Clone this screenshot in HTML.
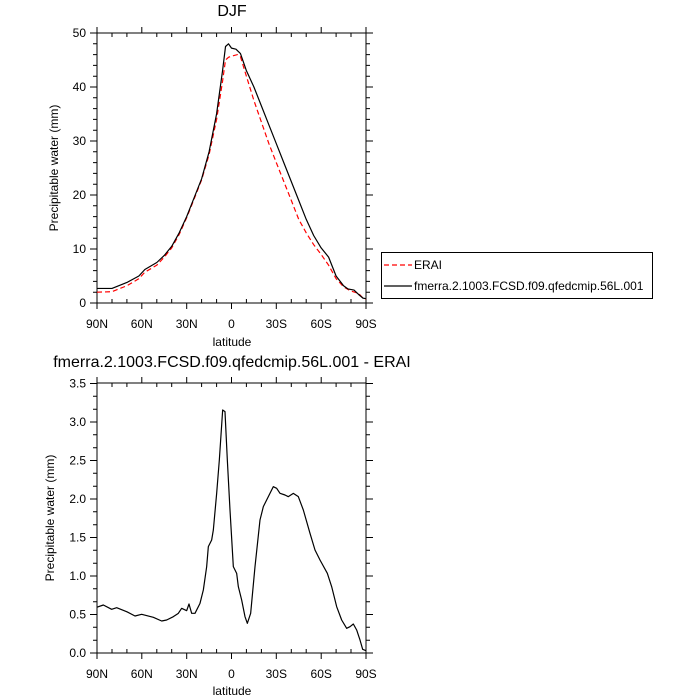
<!DOCTYPE html>
<html><head><style>body{margin:0;background:#fff}svg{display:block}text{font-family:"Liberation Sans",sans-serif;fill:#000}</style></head>
<body>
<svg width="700" height="700" viewBox="0 0 700 700">
<rect width="700" height="700" fill="#fff"/>
<defs>
<g id="xt" stroke="#000" stroke-width="1">
<line x1="97" y1="0" x2="97" y2="6"/><line x1="141.8" y1="0" x2="141.8" y2="6"/><line x1="186.7" y1="0" x2="186.7" y2="6"/><line x1="231.5" y1="0" x2="231.5" y2="6"/><line x1="276.3" y1="0" x2="276.3" y2="6"/><line x1="321.2" y1="0" x2="321.2" y2="6"/><line x1="366" y1="0" x2="366" y2="6"/>
<line x1="112" y1="0" x2="112" y2="-4"/><line x1="126.9" y1="0" x2="126.9" y2="-4"/><line x1="156.8" y1="0" x2="156.8" y2="-4"/><line x1="171.7" y1="0" x2="171.7" y2="-4"/><line x1="201.6" y1="0" x2="201.6" y2="-4"/><line x1="216.6" y1="0" x2="216.6" y2="-4"/><line x1="246.4" y1="0" x2="246.4" y2="-4"/><line x1="261.4" y1="0" x2="261.4" y2="-4"/><line x1="291.3" y1="0" x2="291.3" y2="-4"/><line x1="306.2" y1="0" x2="306.2" y2="-4"/><line x1="336.1" y1="0" x2="336.1" y2="-4"/><line x1="351" y1="0" x2="351" y2="-4"/>
</g>
</defs>
<!-- TOP PLOT -->
<text x="232" y="16" font-size="16" text-anchor="middle">DJF</text>
<rect x="97" y="33" width="269" height="270" fill="none" stroke="#000" stroke-width="1"/>
<use href="#xt" transform="translate(0,303)"/>
<use href="#xt" transform="translate(0,33) scale(1,-1)"/>
<g stroke="#000">
<path d="M90,303h7M90,249h7M90,195h7M90,141h7M90,87h7M90,33h7M366,303h7M366,249h7M366,195h7M366,141h7M366,87h7M366,33h7"/>
<path d="M93,292.2h4M93,281.4h4M93,270.6h4M93,259.8h4M93,238.2h4M93,227.4h4M93,216.6h4M93,205.8h4M93,184.2h4M93,173.4h4M93,162.6h4M93,151.8h4M93,130.2h4M93,119.4h4M93,108.6h4M93,97.8h4M93,76.2h4M93,65.4h4M93,54.6h4M93,43.8h4M366,292.2h4M366,281.4h4M366,270.6h4M366,259.8h4M366,238.2h4M366,227.4h4M366,216.6h4M366,205.8h4M366,184.2h4M366,173.4h4M366,162.6h4M366,151.8h4M366,130.2h4M366,119.4h4M366,108.6h4M366,97.8h4M366,76.2h4M366,65.4h4M366,54.6h4M366,43.8h4"/>
</g>
<g font-size="12" text-anchor="end"><text x="86" y="307">0</text><text x="86" y="253">10</text><text x="86" y="199">20</text><text x="86" y="145">30</text><text x="86" y="91">40</text><text x="86" y="37">50</text></g>
<g font-size="12" text-anchor="middle"><text x="97" y="328">90N</text><text x="141.8" y="328">60N</text><text x="186.7" y="328">30N</text><text x="231.5" y="328">0</text><text x="276.3" y="328">30S</text><text x="321.2" y="328">60S</text><text x="366" y="328">90S</text></g>
<text x="232" y="346" font-size="12" text-anchor="middle">latitude</text>
<text transform="translate(58,168) rotate(-90)" font-size="12" text-anchor="middle">Precipitable water (mm)</text>
<polyline fill="none" stroke="#f00" stroke-width="1.2" stroke-dasharray="5,3" points="97,292.2 112,291.7 127,285.7 138.9,278.7 144.8,272.2 156.8,265.2 164.3,257.1 171.7,247.9 179.2,234.4 186.7,217.7 194.2,198.8 201.6,179.9 209.1,154.5 216.6,119.4 222.5,81.6 225.5,60 228.5,57.3 231.5,56.2 237.5,54.6 240.5,56.8 246.4,76.2 253.9,100.5 261.4,122.1 268.9,143.7 276.3,162.6 283.8,181.5 291.3,200.4 298.7,219.3 306.2,232.8 313.7,244.7 321.1,254.4 328.6,265.2 336.1,278.7 343.6,286.8 351,291.1 358.5,293.3 363,298.1 366,299.2"/>
<g transform="matrix(-1.494,0,0,-5.4,231.5,303)">
<polyline vector-effect="non-scaling-stroke" fill="none" stroke="#000" stroke-width="1.2" stroke-linejoin="round" points="90,2.7 80,2.7 70,3.8 62,5 58,6.2 50,7.5 45,8.8 40,10.5 35,13 30,16 25,19.5 20,23 15,28 10,35 6,43 4,47.5 2,48 0,47.2 -3,47 -6,46.2 -10,43 -15,40 -20,36.5 -25,33 -30,29.5 -35,26 -40,22.5 -45,19 -50,15.5 -55,12.5 -60,10.2 -65,8.5 -70,5 -75,3.2 -78,2.6 -82,2.4 -85,1.6 -88,0.9 -90,0.8"/>
</g>
<!-- legend -->
<rect x="381.5" y="252.5" width="271" height="46" fill="#fff" stroke="#000" stroke-width="1"/>
<line x1="384" y1="265" x2="412" y2="265" stroke="#f00" stroke-width="1.2" stroke-dasharray="5,3"/>
<text x="414" y="269" font-size="12">ERAI</text>
<line x1="384" y1="286" x2="412" y2="286" stroke="#000" stroke-width="1.2"/>
<text x="414" y="290" font-size="12">fmerra.2.1003.FCSD.f09.qfedcmip.56L.001</text>
<!-- BOTTOM PLOT -->
<text x="232" y="367" font-size="16" text-anchor="middle">fmerra.2.1003.FCSD.f09.qfedcmip.56L.001 - ERAI</text>
<rect x="97" y="383" width="269" height="270" fill="none" stroke="#000" stroke-width="1"/>
<use href="#xt" transform="translate(0,653)"/>
<use href="#xt" transform="translate(0,383) scale(1,-1)"/>
<g stroke="#000">
<path d="M90,653h7M90,614.5h7M90,576h7M90,537.5h7M90,499h7M90,460.5h7M90,422h7M90,383.5h7M366,653h7M366,614.5h7M366,576h7M366,537.5h7M366,499h7M366,460.5h7M366,422h7M366,383.5h7"/>
<path d="M93,640.2h4M93,627.3h4M93,601.7h4M93,588.8h4M93,563.2h4M93,550.3h4M93,524.7h4M93,511.8h4M93,486.2h4M93,473.3h4M93,447.7h4M93,434.8h4M93,409.2h4M93,396.3h4M366,640.2h4M366,627.3h4M366,601.7h4M366,588.8h4M366,563.2h4M366,550.3h4M366,524.7h4M366,511.8h4M366,486.2h4M366,473.3h4M366,447.7h4M366,434.8h4M366,409.2h4M366,396.3h4"/>
</g>
<g font-size="12" text-anchor="end"><text x="86" y="657">0.0</text><text x="86" y="618.5">0.5</text><text x="86" y="580">1.0</text><text x="86" y="541.5">1.5</text><text x="86" y="503">2.0</text><text x="86" y="464.5">2.5</text><text x="86" y="426">3.0</text><text x="86" y="387.5">3.5</text></g>
<g font-size="12" text-anchor="middle"><text x="97" y="678">90N</text><text x="141.8" y="678">60N</text><text x="186.7" y="678">30N</text><text x="231.5" y="678">0</text><text x="276.3" y="678">30S</text><text x="321.2" y="678">60S</text><text x="366" y="678">90S</text></g>
<text x="232" y="695" font-size="12" text-anchor="middle">latitude</text>
<text transform="translate(54,518) rotate(-90)" font-size="12" text-anchor="middle">Precipitable water (mm)</text>
<g transform="translate(40,360) scale(0.33333)">
<polyline vector-effect="non-scaling-stroke" fill="none" stroke="#000" stroke-width="1.2" stroke-linejoin="round" points="170,742 190,735 215,748 230,743 260,755 285,768 305,763 340,772 365,783 380,780 400,770 415,760 425,745 440,752 447,732 455,760 465,760 480,730 490,690 500,620 505,560 515,540 520,510 530,400 538,300 548,150 555,155 562,300 570,450 580,620 590,640 595,680 605,720 615,770 622,790 632,760 645,620 660,480 670,440 685,410 700,380 710,385 720,400 735,405 745,410 760,400 775,410 790,450 810,520 825,570 840,600 862,640 875,680 890,740 905,780 920,805 930,800 940,792 950,810 960,840 968,868 978,872"/>
</g>
</svg>
</body></html>
